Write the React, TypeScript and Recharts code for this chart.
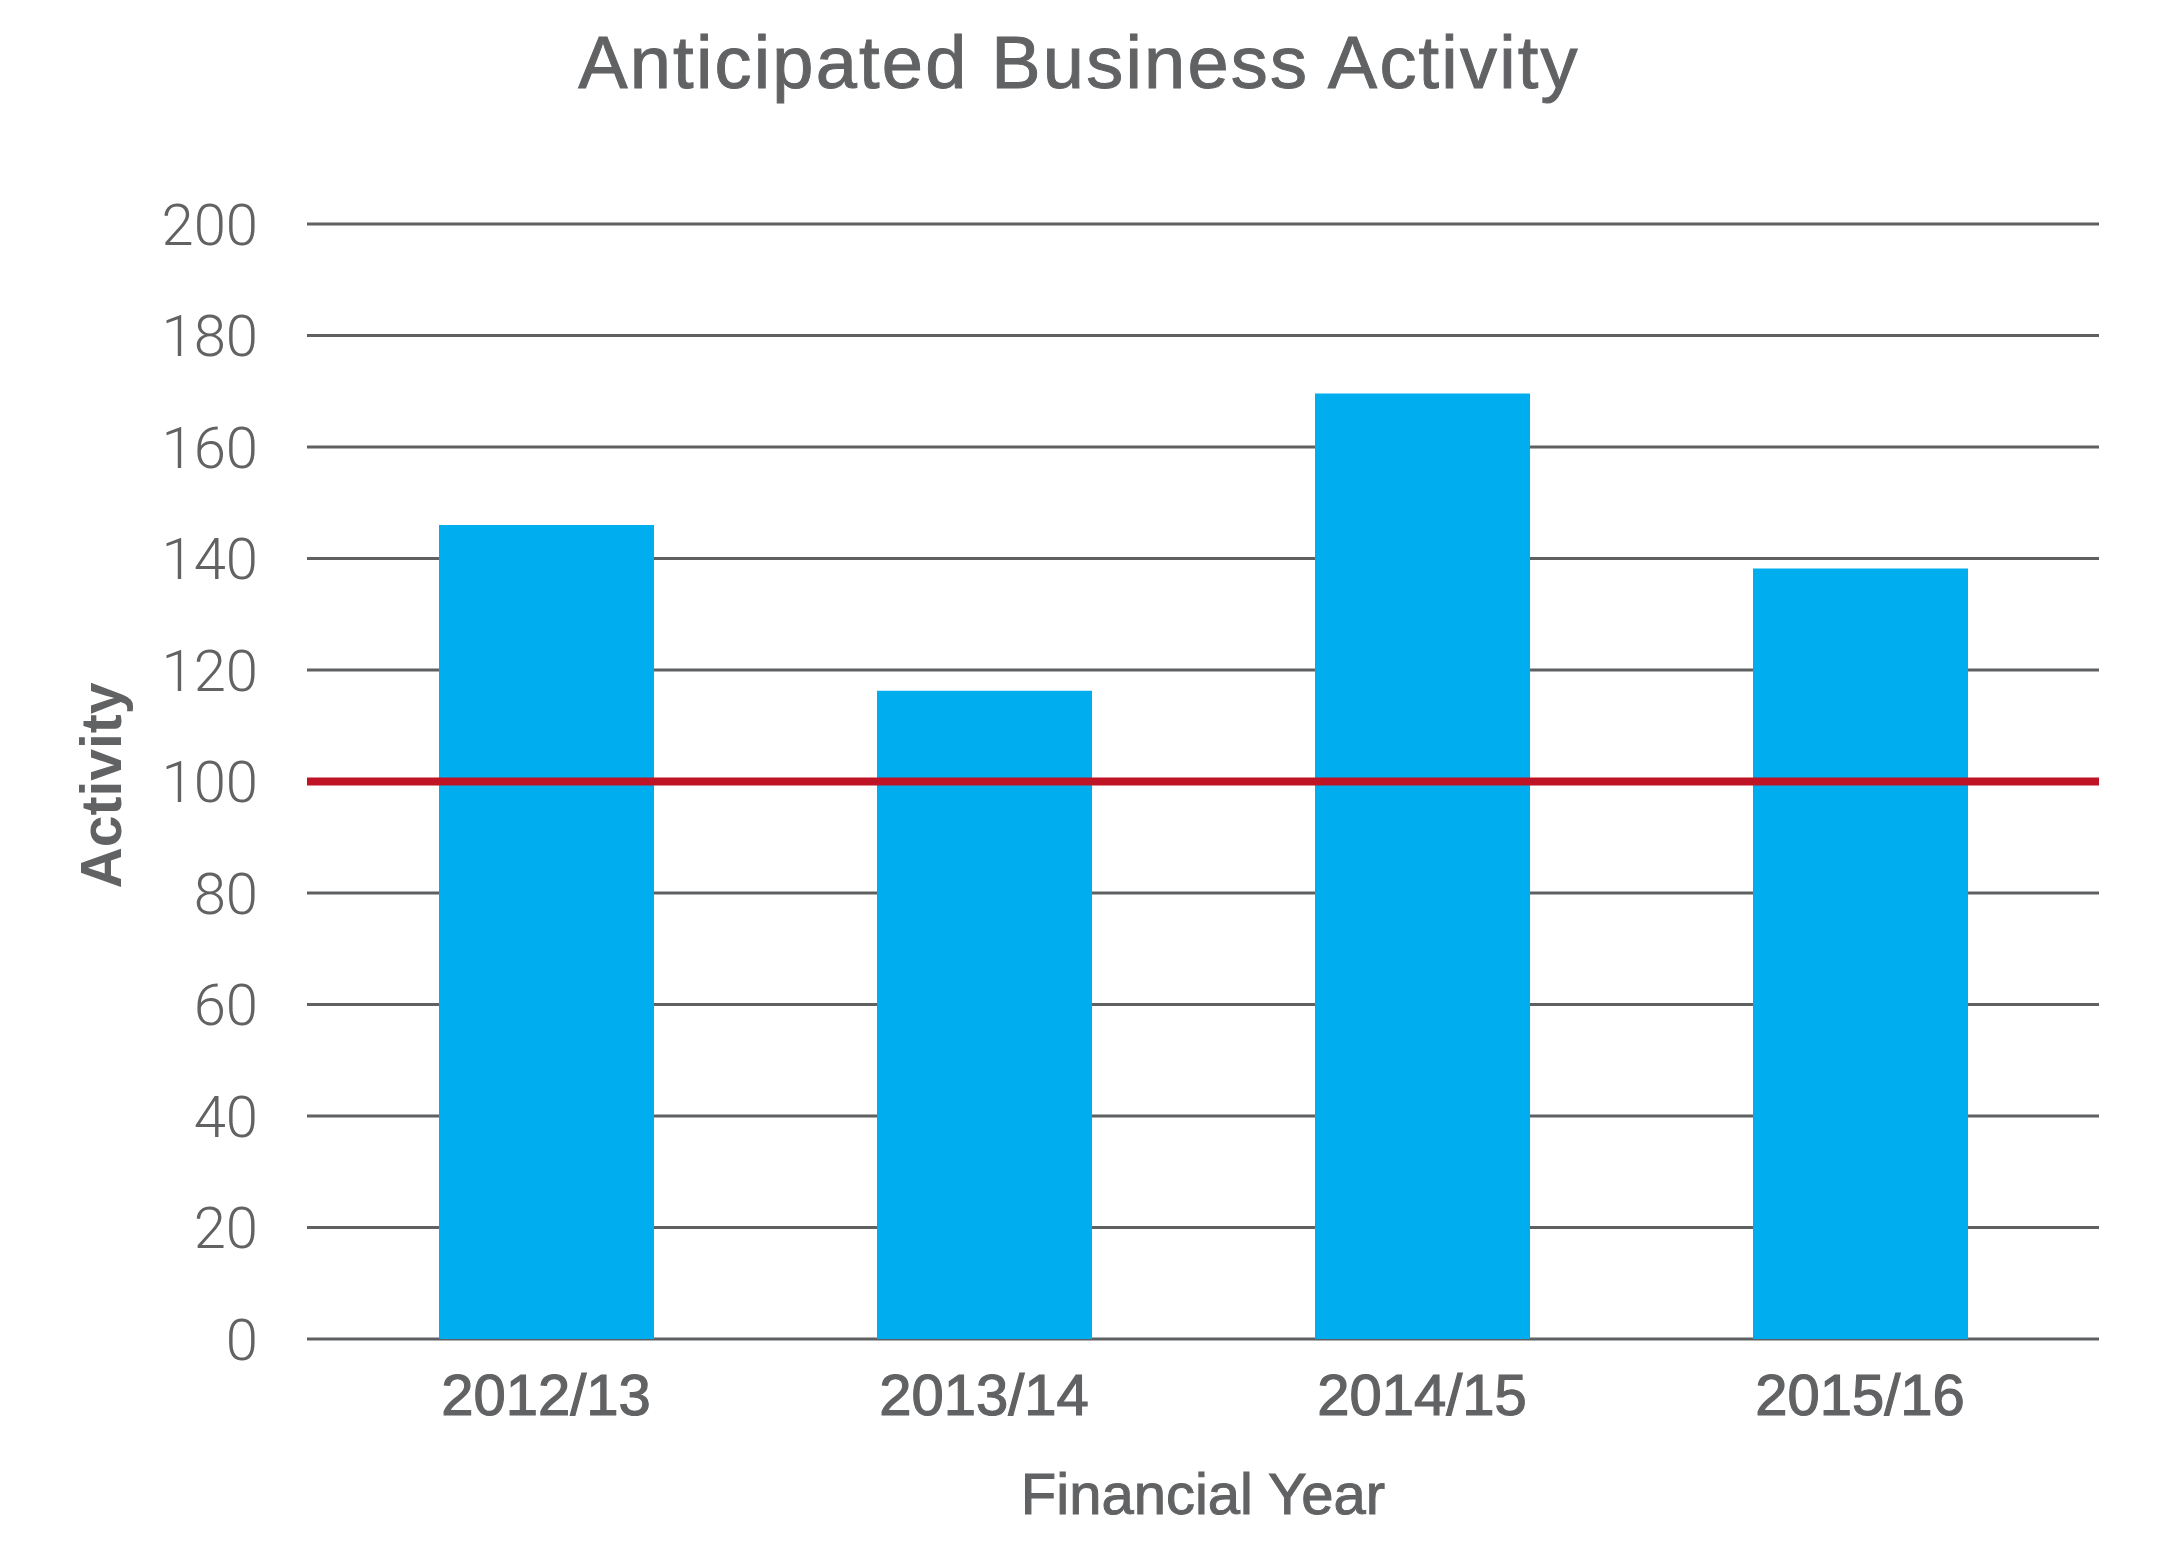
import React from 'react';
import { BarChart, Bar, XAxis, YAxis, CartesianGrid, ReferenceLine, Label } from 'recharts';

const categories = ['2012/13', '2013/14', '2014/15', '2015/16'];
const activity = [146, 116.3, 169.6, 138.2];
const yTicks = [0, 20, 40, 60, 80, 100, 120, 140, 160, 180, 200];
const threshold = 100;

const data = categories.map((c, i) => ({ year: c, activity: activity[i] }));

const TEXT = '#616264';

const YTitle = (props: any) => {
  const vb = props.viewBox || {};
  const cy = vb.y + vb.height / 2 + 4;
  const x = 101;
  return (
    <text
      x={x}
      y={cy}
      transform={`rotate(-90, ${x}, ${cy})`}
      textAnchor="middle"
      dominantBaseline="central"
      fill={TEXT}
      fontFamily="Liberation Sans, Arial, sans-serif"
      fontWeight="bold"
      fontSize={57}
    >
      Activity
    </text>
  );
};

const XTitle = (props: any) => {
  const vb = props.viewBox || {};
  const cx = vb.x + vb.width / 2;
  return (
    <text
      x={cx}
      y={1514}
      textAnchor="middle"
      fill={TEXT}
      stroke={TEXT}
      strokeWidth={1}
      fontFamily="Liberation Sans, Arial, sans-serif"
      fontSize={58}
    >
      Financial Year
    </text>
  );
};

export default function App() {
  return (
    <div style={{ position: 'absolute', left: 0, top: 0, width: 2158, height: 1561, background: '#fff' }}>
      <div
        style={{
          position: 'absolute',
          left: 0,
          top: 26,
          width: 2158,
          textAlign: 'center',
          fontFamily: 'Liberation Sans, Arial, sans-serif',
          fontSize: 74,
          lineHeight: '74px',
          letterSpacing: 2.2,
          color: TEXT,
          WebkitTextStroke: `1px ${TEXT}`,
        }}
      >
        Anticipated Business Activity
      </div>
      <BarChart
        width={2158}
        height={1561}
        data={data}
        margin={{ top: 224, right: 59, bottom: 0, left: 0 }}
        barSize={215}
      >
        <CartesianGrid vertical={false} stroke="#5f6062" strokeWidth={3} />
        <XAxis
          dataKey="year"
          axisLine={false}
          tickLine={false}
          tickSize={0}
          tickMargin={35}
          padding={{ left: 20, right: 20 }}
          height={222}
          tick={{ fill: TEXT, stroke: TEXT, strokeWidth: 1.2, fontSize: 58, fontFamily: 'Liberation Sans, Arial, sans-serif' }}
        >
          <Label content={<XTitle />} />
        </XAxis>
        <YAxis
          type="number"
          domain={[0, 200]}
          ticks={yTicks}
          interval={0}
          width={307}
          axisLine={false}
          tickLine={false}
          tickSize={0}
          tickMargin={49}
          tick={{ fill: TEXT, fontSize: 58, fontFamily: 'Roboto, sans-serif', fontWeight: 300 }}
        >
          <Label content={<YTitle />} />
        </YAxis>
        <Bar dataKey="activity" fill="#00aeef" isAnimationActive={false} />
        <ReferenceLine y={threshold} stroke="#be1425" strokeWidth={8} />
      </BarChart>
    </div>
  );
}
